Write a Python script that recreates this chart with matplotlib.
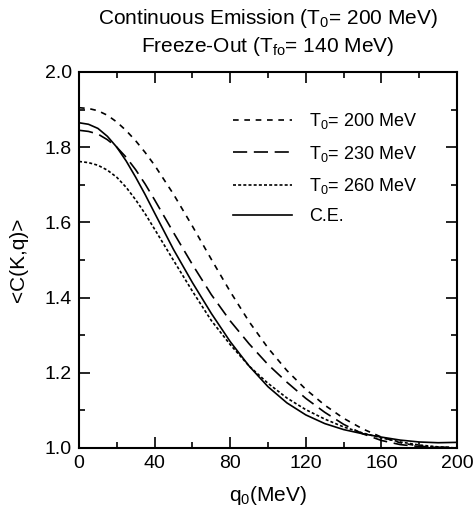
import matplotlib
matplotlib.use("Agg")
import matplotlib.pyplot as plt

plt.rcParams['font.family'] = ['Liberation Sans', 'DejaVu Sans']
plt.rcParams['mathtext.fontset'] = 'custom'
plt.rcParams['mathtext.rm'] = 'Liberation Sans'
plt.rcParams['mathtext.it'] = 'Liberation Sans'

# q0 grid (MeV) and correlation values
q0 = [0, 5, 10, 15, 20, 25, 30, 35, 40, 50, 60, 70, 80, 90, 100,
      110, 120, 130, 140, 150, 160, 170, 180, 190, 200]
c_t200 = [1.905, 1.903, 1.897, 1.885, 1.867, 1.844, 1.817, 1.786, 1.752,
          1.675, 1.59, 1.502, 1.416, 1.336, 1.266,
          1.206, 1.156, 1.114, 1.079, 1.051, 1.029, 1.014, 1.005, 1.001, 1.0]
c_t230 = [1.845, 1.842, 1.835, 1.82, 1.80, 1.773, 1.74, 1.702, 1.66,
          1.573, 1.488, 1.408, 1.338, 1.277, 1.222,
          1.175, 1.132, 1.095, 1.063, 1.038, 1.02, 1.009, 1.004, 1.002, 1.002]
c_t260 = [1.762, 1.759, 1.752, 1.739, 1.72, 1.693, 1.66, 1.623, 1.582,
          1.499, 1.417, 1.339, 1.275, 1.218, 1.172,
          1.133, 1.102, 1.077, 1.056, 1.04, 1.027, 1.016, 1.008, 1.003, 1.0]
c_ce = [1.865, 1.861, 1.850, 1.829, 1.80, 1.763, 1.72, 1.674, 1.625,
        1.528, 1.44, 1.358, 1.283, 1.218, 1.163,
        1.12, 1.088, 1.065, 1.049, 1.038, 1.029, 1.021, 1.016, 1.014, 1.015]

labels = [r'T$_0$= 200 MeV', r'T$_0$= 230 MeV', r'T$_0$= 260 MeV', 'C.E.']

fig = plt.figure(figsize=(4.74, 5.12), dpi=100)
ax = fig.add_axes([79 / 474, 64 / 512, 378 / 474, 376 / 512])

lw = 1.2
ax.plot(q0, c_t200, color='black', lw=lw, dashes=(3.4, 3.4), label=labels[0])
ax.plot(q0, c_t230, color='black', lw=lw, dashes=(8.5, 4), label=labels[1])
ax.plot(q0, c_t260, color='black', lw=lw, dashes=(1.8, 1.3), label=labels[2])
ax.plot(q0, c_ce, color='black', lw=lw, label=labels[3])

ax.set_xlim(0, 200)
ax.set_ylim(1.0, 2.0)
ax.set_xticks([0, 40, 80, 120, 160, 200])
ax.set_xticks(range(0, 201, 20), minor=True)
ax.set_yticks([1.0, 1.2, 1.4, 1.6, 1.8, 2.0])
ax.set_yticks([1.0 + 0.1 * i for i in range(11)], minor=True)
ax.yaxis.set_major_formatter(matplotlib.ticker.FormatStrFormatter('%.1f'))
ax.tick_params(which='both', direction='in', top=True, right=True,
               labelsize=14, width=1.2)
ax.tick_params(which='major', length=8, pad=5)
ax.tick_params(which='minor', length=4.5)
for s in ax.spines.values():
    s.set_linewidth(1.5)

ax.set_xlabel(r'q$_0$(MeV)', fontsize=15, labelpad=9)
ax.set_ylabel('<C(K,q)>', fontsize=15, labelpad=12)

fig.text(268 / 474, 1 - 18 / 512, r'Continuous Emission (T$_0$= 200 MeV)',
         ha='center', va='center', fontsize=15)
fig.text(268 / 474, 1 - 47 / 512, r'Freeze-Out (T$_{fo}$= 140 MeV)',
         ha='center', va='center', fontsize=15)

ax.legend(loc='upper left', bbox_to_anchor=(0.407, 0.895), frameon=False,
          fontsize=13, handlelength=3.3, handletextpad=0.9,
          borderpad=0, borderaxespad=0, labelspacing=0.68)

fig.savefig('out.png', dpi=100)
